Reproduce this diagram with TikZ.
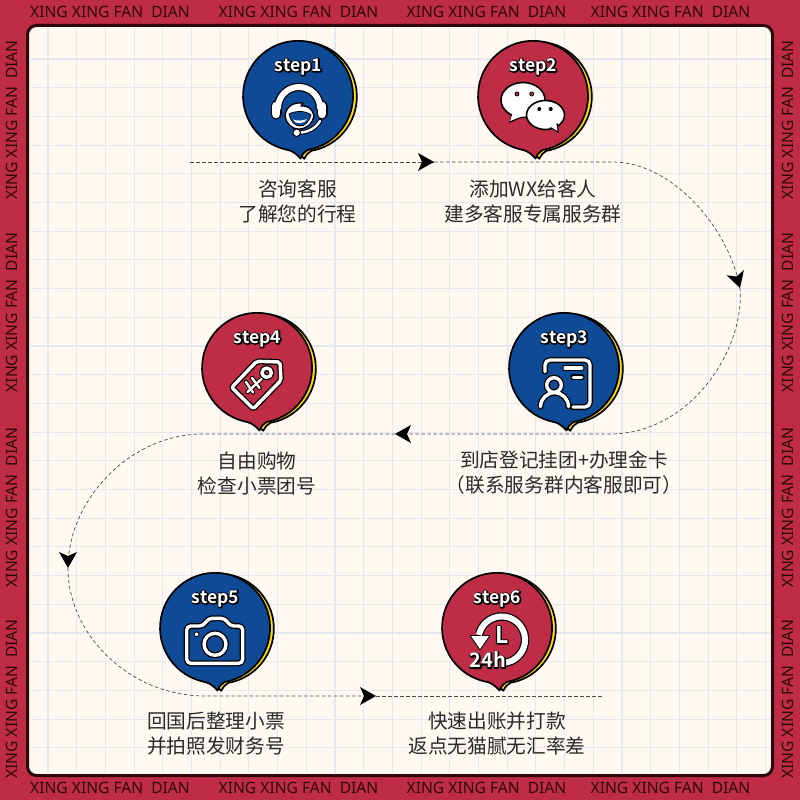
\documentclass[tikz,border=0pt]{standalone}
\usepackage{fontspec}
\setsansfont{Noto Sans}
\newfontfamily\cjk{Noto Sans CJK SC}
\newfontfamily\edgefont{Noto Sans}
\newfontfamily\stepfont{Noto Sans CJK SC Bold}
\newfontfamily\stephalo[Scale=1.001]{Noto Sans CJK SC Bold}
\definecolor{bgred}{HTML}{BE2C45}
\definecolor{cardblue}{HTML}{0F4A96}
\definecolor{cardyellow}{HTML}{FFDD00}
\definecolor{paper}{HTML}{FFF9F2}
\definecolor{gridblue}{HTML}{E3E9EF}
\definecolor{framedark}{HTML}{2E0808}
\definecolor{inkdark}{HTML}{2A2A2A}
\newcommand{\halotext}[1]{\rlap{\special{pdf:code q 1 Tr 2.4 w 0 0 0 RG 1 j 1 J}\stephalo #1\special{pdf:code Q}}{\color{white}\stepfont #1}}
\tikzset{
  edgetext/.style={font=\edgefont\fontsize{15.6}{17}\selectfont, text=framedark, inner sep=0pt},
  caption/.style={font=\cjk\fontsize{19.7}{25}\selectfont, text=inkdark, align=center, inner sep=0pt},
  flow/.style={draw=black!70, line width=0.7pt, dash pattern=on 3.5pt off 2.5pt},
  headtip/.style={fill=black},
  halo/.style={draw=black, line width=6pt, line cap=round, line join=round},
  stroke/.style={draw=white, line width=3.4pt, line cap=round, line join=round},
  steplabel/.style={font=\fontsize{17.5}{20}\selectfont, inner sep=0pt},
}
\begin{document}
\begin{tikzpicture}[x=1pt,y=1pt]
\useasboundingbox (0,0) rectangle (800,-800);
% background
\fill[bgred] (0,0) rectangle (800,-800);
\draw[framedark, fill=paper, line width=3pt, rounded corners=9pt] (27.5,-25.5) rectangle (772.5,-775.5);
\begin{scope}
  \clip[rounded corners=8pt] (29,-27) rectangle (771,-774);
  \foreach \i in {0,...,25} {
    \draw[gridblue, line width=1.1pt] (48+28.7*\i,-27) -- (48+28.7*\i,-775);
    \draw[gridblue, line width=1.1pt] (29,-59-28.7*\i) -- (771,-59-28.7*\i);
  }
\end{scope}
% border text
\foreach \n/\p in {a/110,b/298.5,c/486.5,d/670.5} {
  \node[edgetext] (top\n) at (\p,-12) {XING XING FAN\ \ DIAN};
  \node[edgetext] (bot\n) at (\p,-788) {XING XING FAN\ \ DIAN};
}
\foreach \n/\p in {a/120,b/312.5,c/507.5,d/699} {
  \node[edgetext, rotate=90] (left\n) at (12,-\p) {XING XING FAN\ \ DIAN};
  \node[edgetext, rotate=90] (right\n) at (788,-\p) {XING XING FAN\ \ DIAN};
}
% connectors
\coordinate (s1) at (190,-162);
\coordinate (h1) at (434,-162);
\coordinate (h2) at (740,-288);
\coordinate (h3) at (395,-434);
\coordinate (h4) at (68,-568);
\coordinate (h5) at (376,-696);
\coordinate (e6) at (603,-696);
\draw[flow] (s1) -- (h1);
\draw[flow] (h1) -- (613,-162) .. controls (670,-162) and (728,-225) .. (h2);
\draw[flow] (h2) .. controls (745,-350) and (690,-434) .. (610,-434) -- (h3);
\draw[flow] (h3) -- (203,-434) .. controls (130,-434) and (68,-500) .. (h4);
\draw[flow] (h4) .. controls (68,-635) and (130,-696) .. (205,-696) -- (h5);
\draw[flow] (h5) -- (e6);
\foreach \h/\a in {h1/0,h2/-73,h3/180,h4/-90,h5/0} {
  \fill[headtip, shift={(\h)}, rotate=\a] (0,0) -- (-16,9) -- (-12,0) -- (-16,-9) -- cycle;
}
% bubbles
\foreach \name/\cx/\cy/\col/\lab in {step1/298.5/-96/cardblue/step1,step2/533.5/-96/bgred/step2,step3/564.5/-368/cardblue/step3,step4/257.5/-368/bgred/step4,step5/215.5/-628/cardblue/step5,step6/497.5/-628/bgred/step6} {
  \begin{scope}[shift={(\cx,\cy)}]
    \draw[black, fill=cardyellow, line width=1.7pt, line join=round, shift={(3.8,-0.8)}] (-10,-54) arc (260:-80:55) .. controls (6,-55.5) and (4,-58) .. (2,-62) .. controls (-1,-59) and (-5,-55.5) .. (-10,-54) -- cycle;
    \draw[black, fill=\col, line width=1.7pt, line join=round] (-10,-54) arc (260:-80:55) .. controls (6,-55.5) and (4,-58) .. (2,-62.5) .. controls (-1,-59) and (-5,-55.5) .. (-10,-54) -- cycle;
    \node[steplabel] (\name) at (0,29) {\halotext{\lab}};
  \end{scope}
}
% step1 icon
\begin{scope}[shift={(298,-96)}]
  \draw[halo, line width=8.5pt] (-20,-12) arc (180:0:21);
  \draw[halo, line width=11pt] (-22,-18) -- (-22,-10) (24,-18) -- (24,-10);
  \draw[stroke, line width=6pt] (-20,-12) arc (180:0:21);
  \draw[stroke, line width=8.5pt] (-22,-18) -- (-22,-10) (24,-18) -- (24,-10);
  \fill[white, draw=black, line width=1.3pt, line join=round] (-13,-20) .. controls (-12,-10) and (-4,-6) .. (5,-7) .. controls (4,-8) and (4,-9) .. (3,-10) .. controls (9,-9) and (15,-13) .. (16,-20) .. controls (15,-27) and (9,-33) .. (1,-33) .. controls (-7,-33) and (-12,-27) .. (-13,-20) -- cycle;
  \fill[cardblue, draw=black, line width=.8pt] (-9,-18) .. controls (-3,-15) and (7,-14) .. (13,-19) .. controls (11,-26) and (7,-30) .. (2,-30) .. controls (-3,-30) and (-7,-26) .. (-9,-18) -- cycle;
  \fill[white] (-5,-23.5) .. controls (-1,-25) and (5,-25) .. (9,-23) .. controls (7,-28) and (-3,-29) .. (-5,-23.5) -- cycle;
  \draw[halo, line width=4.5pt] (22,-25) .. controls (18,-32) and (10,-36.7) .. (0,-36.7);
  \draw[stroke, line width=2.4pt] (22,-25) .. controls (18,-32) and (10,-36.7) .. (0,-36.7);
  \fill[white, draw=black, line width=1pt] (-1.3,-36.7) circle (3.8);
\end{scope}
% step2 icon
\begin{scope}[shift={(533,-96)}]
  \draw[black, fill=white, line width=1.6pt, line join=round] (-10,-4) ellipse (22 and 17.5);
  \draw[black, fill=white, line width=1.6pt, line join=round] (-21,-19) -- (-23,-26) -- (-12,-21) -- cycle;
  \fill[white] (-20,-16) -- (-23,-25) -- (-10,-20) -- cycle;
  \fill[bgred, draw=black, line width=.8pt] (-16,2) circle (2) (-1.3,2) circle (2);
  \draw[black, fill=white, line width=1.6pt] (12.5,-19) ellipse (19 and 14.5);
  \draw[black, fill=white, line width=1.6pt, line join=round] (18,-31) -- (25,-36) -- (24,-28) -- cycle;
  \fill[white] (16,-30) -- (24.5,-35) -- (23,-26) -- cycle;
  \fill[black] (6.3,-13) circle (2) (17.7,-13) circle (2);
\end{scope}
% step3 icon
\begin{scope}[shift={(564,-368)}]
  \foreach \sty in {halo,stroke} {
    \draw[\sty] (-19,-3.7) -- (-19,3) arc (180:90:5) -- (21,8) arc (90:0:5) -- (26,-34) arc (0:-90:5) -- (9,-39);
    \draw[\sty] (1,0) -- (17.7,0);
    \draw[\sty] (9.3,-9.3) -- (17.7,-9.3);
    \draw[\sty] (-10,-17) circle (7.3);
    \draw[\sty] (-23.5,-38.7) arc (180:0:14);
  }
\end{scope}
% step4 icon
\begin{scope}[shift={(257,-368)}]
  \foreach \sty in {halo,stroke} {
    \draw[\sty, rounded corners=2pt] (-25.3,-19.5) -- (-0.3,6.7) -- (23,6) -- (24,-12.3) -- (-3.7,-40.7) -- cycle;
    \draw[\sty] (9.7,-4.7) circle (4.7);
  }
  \foreach \sty/\wd in {halo/4.4pt,stroke/2.4pt} {
    \draw[\sty, line width=\wd] (-9.5,-24) -- (4.5,-11);
    \draw[\sty, line width=\wd] (-11,-14) -- (-4,-24.5);
    \draw[\sty, line width=\wd] (-5,-10) -- (2.5,-20);
  }
\end{scope}
% step5 icon
\begin{scope}[shift={(215,-628)}]
  \foreach \sty in {halo,stroke} {
    \draw[\sty, rounded corners=4pt] (-28.3,2) -- (-11.7,2) -- (-6.7,9.7) -- (10,9.7) -- (15,2) -- (27.7,2) -- (27.7,-35.3) -- (-28.3,-35.3) -- cycle;
    \draw[\sty] (0,-16.3) circle (11);
  }
  \fill[white, draw=black, line width=.8pt] (-18.3,-6.3) circle (2.4);
\end{scope}
% step6 icon
\begin{scope}[shift={(497,-628)}]
  \draw[halo, line width=8.4pt, line cap=butt] (6,-35) arc (-87:165:23.3);
  \fill[white, draw=black, line width=2pt, line join=round] (-26,-8) -- (-8,-8) -- (-17,-21) -- cycle;
  \draw[stroke, line width=6pt, line cap=butt] (6,-35) arc (-87:168:23.3);
  \fill[white] (-26,-8) -- (-8,-8) -- (-17,-21) -- cycle;
  \node[inner sep=0pt, font=\fontsize{23}{24}\selectfont] (clockL) at (4.7,-7) {\halotext{L}};
  \node[inner sep=0pt, font=\fontsize{20}{22}\selectfont] (dayH) at (-9,-32) {\halotext{24h}};
\end{scope}
% captions
\node[caption] (cap1) at (297.5,-201.5) {咨询客服\\了解您的行程};
\node[caption] (cap2) at (533,-201.5) {添加WX给客人\\建多客服专属服务群};
\node[caption] (cap3) at (564,-473) {到店登记挂团+办理金卡\\（联系服务群内客服即可）};
\node[caption] (cap4) at (257,-473) {自由购物\\检查小票团号};
\node[caption] (cap5) at (216,-734) {回国后整理小票\\并拍照发财务号};
\node[caption] (cap6) at (497,-734) {快速出账并打款\\返点无猫腻无汇率差};
\end{tikzpicture}
\end{document}
